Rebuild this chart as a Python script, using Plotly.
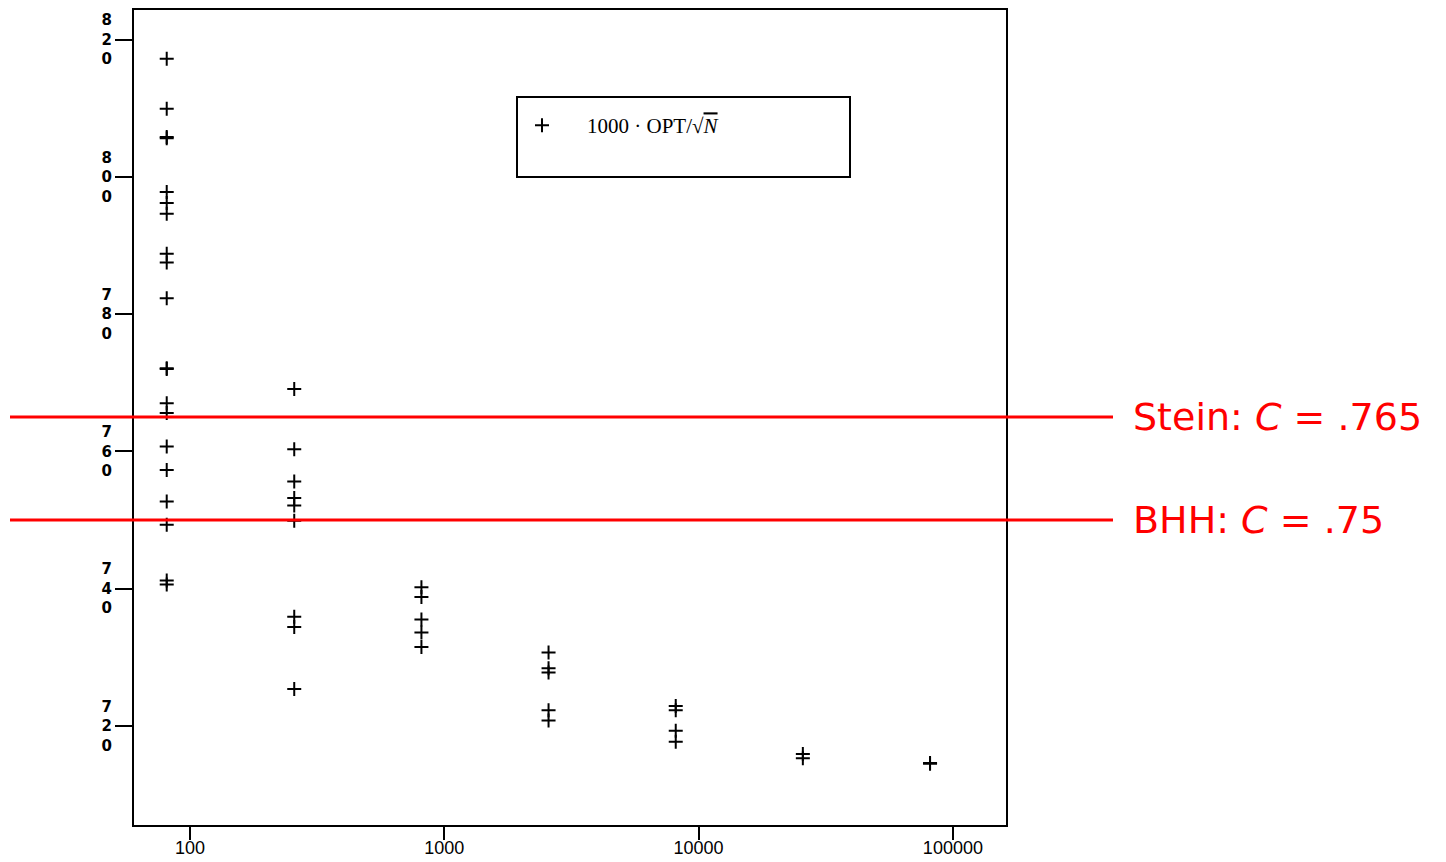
import plotly.graph_objects as go

# Instance sizes N (one column of trials per size)
N_SIZES = [81, 257, 813, 2570, 8130, 25700, 81300]

# 1000 * OPT / sqrt(N) for every random instance, grouped by size
RATIO_BY_SIZE = [
    [817.2, 809.9, 805.8, 805.6, 797.8, 796.2, 794.6, 788.8, 787.5, 782.3,
     772.1, 772.0, 767.0, 765.6, 760.7, 757.3, 752.7, 749.3, 741.2, 740.6],
    [769.1, 760.3, 755.6, 753.2, 752.1, 749.9, 735.9, 734.4, 725.4],
    [740.2, 738.8, 735.5, 733.6, 731.5],
    [730.7, 728.4, 727.8, 722.3, 720.8],
    [722.9, 722.3, 719.3, 717.7],
    [715.9, 715.3],
    [714.6, 714.5],
]

# Reference constants (scaled by 1000) and their labels
REF_LEVELS = [765, 750]
REF_LABELS = ["Stein: <i>C</i> = .765", "BHH: <i>C</i> = .75"]

Y_TICKS = [720, 740, 760, 780, 800, 820]
X_TICKS = [100, 1000, 10000, 100000]

xs, ys = [], []
for n, vals in zip(N_SIZES, RATIO_BY_SIZE):
    xs.extend([n] * len(vals))
    ys.extend(vals)

NB = "\u00a0"
fig = go.Figure()
fig.add_trace(go.Scatter(
    x=xs, y=ys, mode="markers",
    name=f'1000{NB}·{NB}OPT/√<span style="text-decoration:overline"><i>N</i></span>',
    marker=dict(symbol="cross-thin", size=10, color="black",
                line=dict(color="black", width=2)),
))

# Legend frame
fig.add_shape(type="rect", xref="paper", yref="paper",
              x0=(517 - 134) / 872, x1=(850 - 134) / 872,
              y0=(825 - 177) / 815, y1=(825 - 97) / 815,
              line=dict(color="black", width=2), fillcolor="rgba(0,0,0,0)")

# Reference constant lines, drawn past the plot frame
for lvl, lab in zip(REF_LEVELS, REF_LABELS):
    fig.add_shape(type="line", xref="paper", yref="y",
                  x0=(10 - 134) / 872, x1=(1113 - 134) / 872, y0=lvl, y1=lvl,
                  line=dict(color="#ff0000", width=3), layer="above")
    fig.add_annotation(text=lab, xref="paper", yref="y",
                       x=(1131 - 134) / 872, y=lvl, xanchor="left", yanchor="middle",
                       showarrow=False,
                       font=dict(family="DejaVu Sans", size=38, color="#ff0000"))

fig.update_layout(
    width=1446, height=862,
    margin=dict(l=134, r=440, t=10, b=37, pad=0),
    paper_bgcolor="white", plot_bgcolor="white",
    showlegend=True,
    legend=dict(x=(497 - 134) / 872, y=(825 - 105) / 815, xanchor="left", yanchor="top",
                bgcolor="rgba(0,0,0,0)", borderwidth=0, itemwidth=80,
                font=dict(family="Liberation Serif", size=21, color="black")),
)

fig.update_xaxes(
    type="log", range=[1.7798, 5.2088], automargin=False,
    tickvals=X_TICKS, ticktext=[str(v) for v in X_TICKS],
    ticks="outside", ticklen=13, tickwidth=2, tickcolor="black",
    ticklabelstandoff=-8,
    showline=True, linecolor="black", linewidth=2, mirror=True,
    showgrid=False, zeroline=False,
    tickfont=dict(family="Liberation Sans", size=18, color="black"),
)
fig.update_yaxes(
    range=[705.57, 824.3], automargin=False,
    tickvals=Y_TICKS, ticktext=["<br>".join(str(v)) for v in Y_TICKS],
    ticks="outside", ticklen=17, tickwidth=2, tickcolor="black",
    showline=True, linecolor="black", linewidth=2, mirror=True,
    showgrid=False, zeroline=False,
    tickfont=dict(family="DejaVu Sans", size=15, weight="bold", color="black"),
)

fig.write_html("out.html")
